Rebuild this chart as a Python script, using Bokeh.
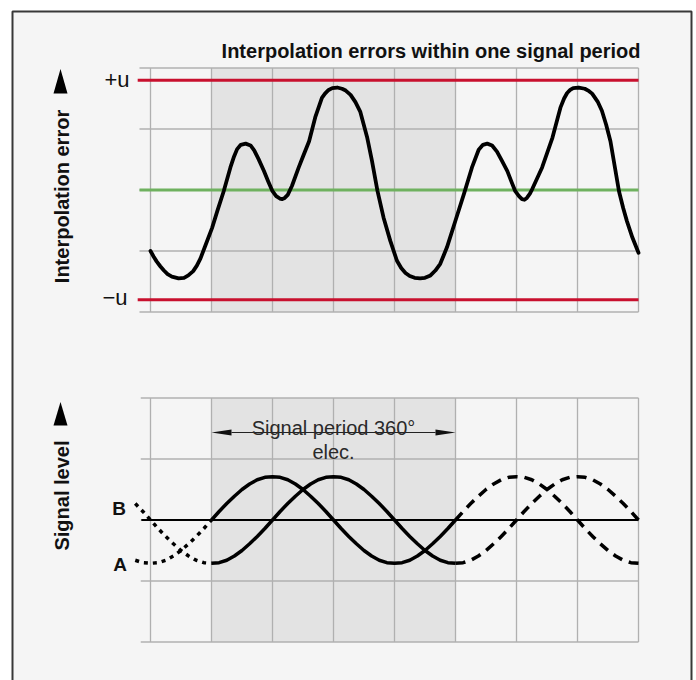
from bokeh.plotting import figure
from bokeh.models import Range1d, Label, BoxAnnotation
from bokeh.embed import file_html
from bokeh.resources import INLINE

# ---------------- data (x and y in grid cells) ----------------
x_ticks = [0, 1, 2, 3, 4, 5, 6, 7, 8]
y_ticks = [-2, -1, 0, 1, 2]
u_level = 1.8                 # +u / -u limits
period = [1.0, 5.0]           # one signal period (360° elec.)

err_x = [0.00, 0.05, 0.10, 0.16, 0.22, 0.28, 0.35, 0.46, 0.55, 0.62, 0.70, 0.76,
         0.82, 0.90, 1.01, 1.10, 1.20, 1.31, 1.37, 1.42, 1.48, 1.56, 1.64, 1.70,
         1.77, 1.86, 1.93, 2.00, 2.06, 2.12, 2.16, 2.20, 2.25, 2.32, 2.43, 2.50,
         2.60, 2.70, 2.81, 2.86, 2.92, 2.98, 3.06, 3.14, 3.20, 3.28, 3.36, 3.44,
         3.55, 3.63, 3.72, 3.82, 3.93, 4.04, 4.11, 4.18, 4.25, 4.33, 4.42, 4.50,
         4.59, 4.67, 4.75, 4.86, 5.00, 5.14, 5.27, 5.38, 5.45, 5.52, 5.60, 5.68,
         5.76, 5.85, 5.92, 5.98, 6.04, 6.09, 6.13, 6.17, 6.22, 6.26, 6.42, 6.59,
         6.72, 6.78, 6.83, 6.88, 6.93, 7.02, 7.12, 7.19, 7.24, 7.33, 7.40, 7.47,
         7.54, 7.61, 7.68, 7.75, 7.81, 7.90, 8.00]
err_y = [-1.00, -1.09, -1.17, -1.25, -1.32, -1.38, -1.42, -1.45, -1.44, -1.40, -1.33, -1.24,
         -1.12, -0.91, -0.62, -0.33, -0.02, 0.37, 0.55, 0.67, 0.74, 0.76, 0.73, 0.65,
         0.51, 0.31, 0.14, -0.02, -0.10, -0.14, -0.15, -0.13, -0.08, 0.07, 0.37, 0.55,
         0.80, 1.19, 1.51, 1.58, 1.64, 1.67, 1.68, 1.66, 1.63, 1.56, 1.44, 1.28,
         0.87, 0.48, -0.01, -0.45, -0.83, -1.16, -1.28, -1.36, -1.41, -1.44, -1.45, -1.44,
         -1.40, -1.32, -1.21, -0.94, -0.50, -0.06, 0.37, 0.66, 0.74, 0.76, 0.73, 0.63,
         0.48, 0.31, 0.13, -0.02, -0.10, -0.15, -0.16, -0.13, -0.06, 0.02, 0.37, 0.86,
         1.35, 1.50, 1.59, 1.64, 1.67, 1.68, 1.66, 1.62, 1.58, 1.45, 1.30, 1.07,
         0.80, 0.39, -0.02, -0.30, -0.51, -0.78, -1.03]

sig_x = [-0.250, -0.125,
         0.000, 0.125, 0.250, 0.375, 0.500, 0.625, 0.750, 0.875,
         1.000, 1.125, 1.250, 1.375, 1.500, 1.625, 1.750, 1.875,
         2.000, 2.125, 2.250, 2.375, 2.500, 2.625, 2.750, 2.875,
         3.000, 3.125, 3.250, 3.375, 3.500, 3.625, 3.750, 3.875,
         4.000, 4.125, 4.250, 4.375, 4.500, 4.625, 4.750, 4.875,
         5.000, 5.125, 5.250, 5.375, 5.500, 5.625, 5.750, 5.875,
         6.000, 6.125, 6.250, 6.375, 6.500, 6.625, 6.750, 6.875,
         7.000, 7.125, 7.250, 7.375, 7.500, 7.625, 7.750, 7.875,
         8.000]
sig_a = [-0.66, -0.70,
         -0.71, -0.70, -0.66, -0.59, -0.50, -0.39, -0.27, -0.14,
         0.00, 0.14, 0.27, 0.39, 0.50, 0.59, 0.66, 0.70,
         0.71, 0.70, 0.66, 0.59, 0.50, 0.39, 0.27, 0.14,
         0.00, -0.14, -0.27, -0.39, -0.50, -0.59, -0.66, -0.70,
         -0.71, -0.70, -0.66, -0.59, -0.50, -0.39, -0.27, -0.14,
         0.00, 0.14, 0.27, 0.39, 0.50, 0.59, 0.66, 0.70,
         0.71, 0.70, 0.66, 0.59, 0.50, 0.39, 0.27, 0.14,
         0.00, -0.14, -0.27, -0.39, -0.50, -0.59, -0.66, -0.70,
         -0.71]
sig_b = [0.27, 0.14,
         0.00, -0.14, -0.27, -0.39, -0.50, -0.59, -0.66, -0.70,
         -0.71, -0.70, -0.66, -0.59, -0.50, -0.39, -0.27, -0.14,
         0.00, 0.14, 0.27, 0.39, 0.50, 0.59, 0.66, 0.70,
         0.71, 0.70, 0.66, 0.59, 0.50, 0.39, 0.27, 0.14,
         0.00, -0.14, -0.27, -0.39, -0.50, -0.59, -0.66, -0.70,
         -0.71, -0.70, -0.66, -0.59, -0.50, -0.39, -0.27, -0.14,
         0.00, 0.14, 0.27, 0.39, 0.50, 0.59, 0.66, 0.70,
         0.71, 0.70, 0.66, 0.59, 0.50, 0.39, 0.27, 0.14,
         0.00]

title_text = "Interpolation errors within one signal period"
top_axis_title = "Interpolation error"
bot_axis_title = "Signal level"
upper_label = "+u"
lower_label = "\u2212u"
period_text = "Signal period 360°"
period_text2 = "elec."

# ---------------- geometry / style ----------------
PX = 61.0                      # pixels per grid cell
W, H = 696, 680
X0_C = 150.0                   # canvas px of x = 0
TOP0_C = 189.5                 # canvas px of y = 0 in upper chart
BOT0_C = 519.5                 # canvas px of y = 0 in lower chart

def cx(px):      # canvas pixel -> x cells
    return (px - X0_C) / PX

def ct(py):      # canvas pixel -> upper chart cells
    return (TOP0_C - py) / PX

def cb(py):      # canvas pixel -> lower chart cells
    return (BOT0_C - py) / PX

x_range = Range1d(cx(0), cx(W))
top_range = Range1d(ct(H), ct(0))
bot_range = Range1d(cb(H), cb(0))

GRID = "#b0b0b0"
SHADE = "#e3e3e3"
RED = "#c8102e"
GREEN = "#6fb15f"
INK = "#111111"
FONT = "Liberation Sans"

p = figure(width=W, height=H, x_range=x_range, y_range=top_range, title=None,
           toolbar_location=None, output_backend="svg",
           x_axis_type=None, y_axis_type=None,
           min_border_left=0, min_border_top=0, min_border_right=0,
           min_border_bottom=0)
p.extra_y_ranges = {"sig": bot_range}
p.background_fill_color = "white"
p.border_fill_color = "white"
p.outline_line_color = None

# panel frame (open at the bottom, continues past the page)
p.add_layout(BoxAnnotation(left=cx(12), right=cx(691), top=ct(11), bottom=ct(H + 40),
                           fill_color="#f5f5f5", fill_alpha=1.0,
                           line_color="#383838", line_alpha=1.0, line_width=2,
                           level="underlay"))


def panel(rn, hgrid_start):
    lo, hi = min(y_ticks), max(y_ticks)
    p.quad(left=[period[0]], right=[period[1]], bottom=[lo], top=[hi],
           fill_color=SHADE, line_color=None, y_range_name=rn)
    p.segment(x0=x_ticks, y0=[lo] * len(x_ticks), x1=x_ticks, y1=[hi] * len(x_ticks),
              line_color=GRID, line_width=1.3, y_range_name=rn)
    p.segment(x0=[hgrid_start] * len(y_ticks), y0=y_ticks,
              x1=[max(x_ticks)] * len(y_ticks), y1=y_ticks,
              line_color=GRID, line_width=1.3, y_range_name=rn)


# ---- upper chart ----
panel("default", -0.18)
p.segment(x0=[-0.21, -0.21], y0=[u_level, -u_level], x1=[max(x_ticks)] * 2,
          y1=[u_level, -u_level], line_color=RED, line_width=3)
p.segment(x0=[-0.18], y0=[0], x1=[max(x_ticks)], y1=[0], line_color=GREEN, line_width=3)
p.line(err_x, err_y, line_color="black", line_width=3.8, line_join="round", line_cap="round")

# ---- lower chart ----
panel("sig", -0.16)
p.segment(x0=[-0.15], y0=[0], x1=[max(x_ticks)], y1=[0], line_color="black",
          line_width=1.8, y_range_name="sig")

i1 = sig_x.index(period[0])
i2 = sig_x.index(period[1])
for ys in (sig_a, sig_b):
    p.line(sig_x[:i1 + 1], ys[:i1 + 1], line_color="black", line_width=3.5,
           line_dash="4 5", y_range_name="sig")
    p.line(sig_x[i1:i2 + 1], ys[i1:i2 + 1], line_color="black", line_width=3.5,
           line_join="round", y_range_name="sig")
    p.line(sig_x[i2:], ys[i2:], line_color="black", line_width=3.5,
           line_dash="10 7", y_range_name="sig")

# period arrow
ay = cb(432)
hl, hh = 20 / PX, 3 / PX
p.segment(x0=[period[0] + hl], y0=[ay], x1=[period[1] - hl], y1=[ay],
          line_color="#222222", line_width=1.2, y_range_name="sig")
p.patches(xs=[[period[0], period[0] + hl, period[0] + hl],
              [period[1], period[1] - hl, period[1] - hl]],
          ys=[[ay, ay + hh, ay - hh], [ay, ay + hh, ay - hh]],
          fill_color="#111111", line_color=None, y_range_name="sig")

# axis-title triangles
tx, tw = cx(60), 7 / PX
p.patches(xs=[[tx - tw, tx, tx + tw]], ys=[[ct(93), ct(68.5), ct(93)]],
          fill_color="black", line_color=None)
p.patches(xs=[[tx - tw, tx, tx + tw]], ys=[[cb(425), cb(401.5), cb(425)]],
          fill_color="black", line_color=None, y_range_name="sig")

# ---------------- texts ----------------
def lab(x, y, text, rn="default", **kw):
    base = dict(text_font=FONT, text_color=INK, text_baseline="alphabetic")
    base.update(kw)
    p.add_layout(Label(x=x, y=y, text=text, y_range_name=rn, **base))

lab(cx(640), ct(50), title_text, text_align="right", text_font_size="20px",
    text_font_style="bold")
lab(cx(129), u_level, upper_label, text_align="right", text_font_size="22px", y_offset=1)
lab(cx(127), -u_level, lower_label, text_align="right", text_font_size="22px", y_offset=2)
lab(cx(61), ct(196), top_axis_title, text_align="center", text_baseline="middle",
    angle=90, angle_units="deg", text_font_size="20px", text_font_style="bold")
lab(cx(61), cb(495), bot_axis_title, rn="sig", text_align="center", text_baseline="middle",
    angle=90, angle_units="deg", text_font_size="20px", text_font_style="bold")
lab(cx(125.5), cb(508), "B", rn="sig", text_align="right", text_font_size="19px",
    text_font_style="bold")
lab(cx(126.5), cb(564), "A", rn="sig", text_align="right", text_font_size="19px",
    text_font_style="bold")
lab(sum(period) / 2, cb(427.5), period_text, rn="sig", text_align="center",
    text_font_size="20px", text_color="#2a2a2a")
lab(sum(period) / 2, cb(451.5), period_text2, rn="sig", text_align="center",
    text_font_size="20px", text_color="#2a2a2a")

open("out.html", "w").write(file_html(p, INLINE))
